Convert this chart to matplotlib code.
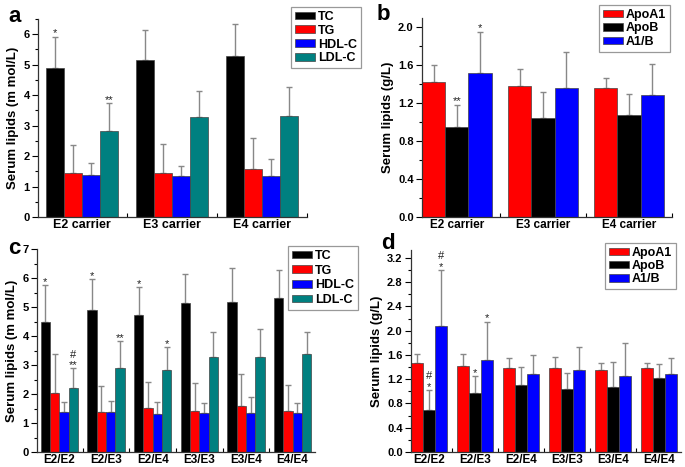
import numpy as np
import matplotlib
matplotlib.use("Agg")
import matplotlib.pyplot as plt
from matplotlib.ticker import MultipleLocator, FixedLocator

plt.rcParams['font.family'] = ['Liberation Sans', 'DejaVu Sans']
plt.rcParams['font.weight'] = 'bold'

# ---------------- data ----------------
carriers = ["E2 carrier", "E3 carrier", "E4 carrier"]
genotypes = ["E2/E2", "E2/E3", "E2/E4", "E3/E3", "E3/E4", "E4/E4"]
lipid_names = ["TC", "TG", "HDL-C", "LDL-C"]
apo_names = ["ApoA1", "ApoB", "A1/B"]

# panel a: mean and upper error-bar tip
a_TC = [4.90, 5.15, 5.30];  a_TC_top = [5.92, 6.15, 6.33]
a_TG = [1.44, 1.43, 1.58];  a_TG_top = [2.35, 2.40, 2.58]
a_HDL = [1.38, 1.35, 1.35]; a_HDL_top = [1.77, 1.69, 1.89]
a_LDL = [2.83, 3.29, 3.31]; a_LDL_top = [3.75, 4.15, 4.28]

# panel b
b_A1 = [1.42, 1.38, 1.36];  b_A1_top = [1.60, 1.55, 1.46]
b_B = [0.95, 1.04, 1.07];   b_B_top = [1.18, 1.31, 1.29]
b_R = [1.51, 1.36, 1.28];   b_R_top = [1.94, 1.73, 1.61]

# panel c
c_TC = [4.50, 4.90, 4.72, 5.15, 5.18, 5.32]; c_TC_top = [5.75, 5.98, 5.70, 6.15, 6.33, 6.27]
c_TG = [2.05, 1.38, 1.53, 1.42, 1.58, 1.43]; c_TG_top = [3.38, 2.28, 2.42, 2.38, 2.70, 2.32]
c_HDL = [1.38, 1.38, 1.32, 1.33, 1.33, 1.35]; c_HDL_top = [1.72, 1.77, 1.72, 1.68, 1.90, 1.68]
c_LDL = [2.20, 2.90, 2.82, 3.28, 3.27, 3.37]; c_LDL_top = [2.90, 3.82, 3.62, 4.15, 4.25, 4.15]

# panel d
d_A1 = [1.46, 1.42, 1.39, 1.38, 1.36, 1.38]; d_A1_top = [1.62, 1.62, 1.55, 1.56, 1.47, 1.47]
d_B = [0.70, 0.98, 1.10, 1.04, 1.07, 1.22];  d_B_top = [1.02, 1.25, 1.40, 1.31, 1.49, 1.45]
d_R = [2.08, 1.52, 1.29, 1.36, 1.26, 1.29];  d_R_top = [3.00, 2.15, 1.60, 1.73, 1.80, 1.55]

# significance marks: (group index, series index, label, y)
a_marks = [(0, 0, "*", 6.05), (0, 3, "**", 3.85)]
b_marks = [(0, 1, "**", 1.22), (0, 2, "*", 1.98)]
c_marks = [(0, 0, "*", 5.85), (1, 0, "*", 6.08), (2, 0, "*", 5.80),
           (0, 3, "**", 3.00), (0, 3, "#", 3.34), (1, 3, "**", 3.92), (2, 3, "*", 3.72)]
d_marks = [(0, 1, "*", 1.07), (0, 1, "#", 1.25), (1, 1, "*", 1.30),
           (0, 2, "*", 3.05), (0, 2, "#", 3.23), (1, 2, "*", 2.20)]

lip_colors = ["#000000", "#ff0000", "#0000ff", "#008080"]
apo_colors = ["#ff0000", "#000000", "#0000ff"]

W, H = 685, 467
fig = plt.figure(figsize=(W / 100, H / 100), dpi=100)


def px_axes(l, r, t, b):
    return fig.add_axes([l / W, 1 - b / H, (r - l) / W, (b - t) / H])


def draw(ax, cats, means, tops, names, colors, width, xlim, ylim, major, minor,
         ylabel, fmt, marks, leg_xy, labelspacing, xfs):
    n = len(means)
    x = np.arange(1, len(cats) + 1)
    offs = (np.arange(n) - (n - 1) / 2) * width
    handles = []
    for i in range(n):
        m = np.array(means[i]); t = np.array(tops[i])
        err = np.vstack([np.zeros_like(m), t - m])
        bc = ax.bar(x + offs[i], m, width, color=colors[i], edgecolor="#444444",
                    linewidth=0.5, label=names[i], zorder=2)
        ax.errorbar(x + offs[i], m, yerr=err, fmt="none", ecolor="#888888",
                    elinewidth=1.0, capsize=2.5, capthick=1.0, zorder=1)
        handles.append(bc)
    for g, s, txt, yy in marks:
        ax.text(x[g] + offs[s], yy, txt, ha="center", va="center",
                fontsize=8, fontweight="normal", color="#222222")
    ax.set_xlim(*xlim)
    ax.set_ylim(*ylim)
    ax.set_xticks(x)
    ax.set_xticklabels(cats, fontsize=xfs, fontweight="bold")
    ax.xaxis.set_minor_locator(FixedLocator(np.arange(1.5, len(cats) + 1, 1.0)))
    ax.tick_params(axis="x", which="major", length=0, pad=1.5)
    ax.tick_params(axis="x", which="minor", length=3, direction="in", width=0.8)
    ax.yaxis.set_major_locator(MultipleLocator(major))
    ax.yaxis.set_minor_locator(MultipleLocator(minor))
    ax.yaxis.set_major_formatter(plt.FormatStrFormatter(fmt))
    ax.tick_params(axis="y", which="major", length=4, direction="out", width=0.8,
                   labelsize=8, pad=2)
    ax.tick_params(axis="y", which="minor", length=2, direction="out", width=0.8)
    for lab in ax.get_yticklabels():
        lab.set_fontweight("bold")
    ax.set_ylabel(ylabel, fontsize=9.5, fontweight="bold", labelpad=3)
    for sp in ["top", "right"]:
        ax.spines[sp].set_visible(False)
    for sp in ["left", "bottom"]:
        ax.spines[sp].set_linewidth(0.9)
        ax.spines[sp].set_color("#333333")
    leg = ax.legend(handles=handles, loc="upper left",
                    bbox_to_anchor=(leg_xy[0] / W, 1 - leg_xy[1] / H),
                    bbox_transform=fig.transFigure,
                    prop={"weight": "bold", "size": 9},
                    handlelength=1.6, handleheight=0.55, handletextpad=0.25,
                    labelspacing=labelspacing, borderpad=0.3, borderaxespad=0,
                    fancybox=False, framealpha=1)
    leg.get_frame().set_edgecolor("#999999")
    leg.get_frame().set_linewidth(0.9)


ax_a = px_axes(38, 307, 19, 217)
draw(ax_a, carriers, [a_TC, a_TG, a_HDL, a_LDL],
     [a_TC_top, a_TG_top, a_HDL_top, a_LDL_top], lipid_names, lip_colors,
     0.2, (0.51, 3.5), (0, 6.5), 1, 0.5, "Serum lipids (m mol/L)", "%d",
     a_marks, (291, 7), 0.15, 9)

ax_b = px_axes(422, 672, 18, 217)
draw(ax_b, carriers, [b_A1, b_B, b_R], [b_A1_top, b_B_top, b_R_top],
     apo_names, apo_colors, 0.27, (0.595, 3.5), (0, 2.09), 0.4, 0.2,
     "Serum lipids (g/L)", "%.1f", b_marks, (599, 5), 0.12, 8.5)

ax_c = px_axes(37, 315, 249, 452)
draw(ax_c, genotypes, [c_TC, c_TG, c_HDL, c_LDL],
     [c_TC_top, c_TG_top, c_HDL_top, c_LDL_top], lipid_names, lip_colors,
     0.2, (0.52, 6.48), (0, 7), 1, 0.5, "Serum lipids (m mol/L)", "%d",
     c_marks, (288, 246), 0.22, 8.5)

ax_d = px_axes(411, 681, 250, 452)
draw(ax_d, genotypes, [d_A1, d_B, d_R], [d_A1_top, d_B_top, d_R_top],
     apo_names, apo_colors, 0.262, (0.607, 6.48), (0, 3.33), 0.4, 0.2,
     "Serum lipids (g/L)", "%.1f", d_marks, (605, 243), 0.1, 8.5)

for txt, xx, yy in [("a", 8, 17), ("b", 377, 15), ("c", 8, 248), ("d", 381, 244)]:
    fig.text(xx / W, 1 - yy / H, txt, fontsize=16, fontweight="bold",
             ha="left", va="center")

fig.savefig("out.png", dpi=100)
